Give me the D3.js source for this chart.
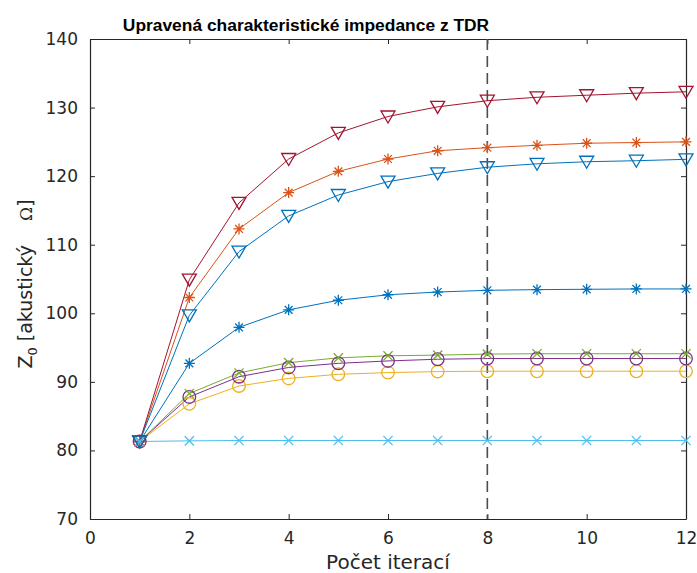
<!DOCTYPE html>
<html>
<head>
<meta charset="utf-8">
<script src="https://cdn.jsdelivr.net/npm/d3@7"></script>
<style>
  html, body { margin: 0; padding: 0; background: #fff; }
  svg { display: block; }
</style>
</head>
<body>
<svg id="chart" width="697" height="573"></svg>
<script>
// Iteration numbers on the x axis
const iterations = [1, 2, 3, 4, 5, 6, 7, 8, 9, 10, 11, 12];

// Corrected characteristic impedance per iteration, one array per line
const zBlueStar   = [81.3, 92.7, 97.95, 100.5, 101.9, 102.7, 103.1, 103.35, 103.45, 103.5, 103.55, 103.55];
const zOrangeStar = [81.3, 102.3, 112.3, 117.6, 120.7, 122.5, 123.7, 124.15, 124.5, 124.8, 124.9, 125.0];
const zYellowCirc = [81.3, 86.8, 89.4, 90.5, 91.1, 91.35, 91.5, 91.55, 91.55, 91.55, 91.55, 91.55];
const zPurpleCirc = [81.3, 87.8, 90.75, 92.1, 92.7, 93.05, 93.3, 93.4, 93.4, 93.4, 93.4, 93.4];
const zGreenX     = [81.3, 88.3, 91.3, 92.8, 93.5, 93.8, 93.9, 94.05, 94.1, 94.1, 94.1, 94.1];
const zCyanX      = [81.3, 81.4, 81.45, 81.45, 81.45, 81.45, 81.45, 81.45, 81.45, 81.45, 81.45, 81.45];
const zRedTri     = [81.3, 104.9, 116.1, 122.5, 126.3, 128.7, 130.1, 131.0, 131.5, 131.8, 132.1, 132.3];
const zBlueTri    = [81.3, 99.7, 109.0, 114.2, 117.25, 119.2, 120.4, 121.3, 121.8, 122.1, 122.25, 122.45];

// Axis ticks and the marked iteration
const xTicks = [0, 2, 4, 6, 8, 10, 12];
const yTicks = [70, 80, 90, 100, 110, 120, 130, 140];
const markedIteration = 8;

const series = [
  { values: zBlueStar,   color: "#0072BD", marker: "star" },
  { values: zOrangeStar, color: "#D95319", marker: "star" },
  { values: zYellowCirc, color: "#EDB120", marker: "circle" },
  { values: zPurpleCirc, color: "#7E2F8E", marker: "circle" },
  { values: zGreenX,     color: "#77AC30", marker: "cross" },
  { values: zCyanX,      color: "#4DBEEE", marker: "cross" },
  { values: zRedTri,     color: "#A2142F", marker: "tri" },
  { values: zBlueTri,    color: "#0072BD", marker: "tri" }
];

const svg = d3.select("#chart");
const plotLeft = 90, plotRight = 686, plotTop = 39, plotBottom = 519;

const x = d3.scaleLinear().domain([0, 12]).range([plotLeft, plotRight]);
const y = d3.scaleLinear().domain([70, 140]).range([plotBottom, plotTop]);

const axisColor = "#262626";
const labelFont = "'DejaVu Sans', sans-serif";
const titleFont = "'Liberation Sans', Arial, Helvetica, sans-serif";

const g = svg.append("g");

// Bottom and left axes carry labels; top and right mirror the ticks
const xAxis = d3.axisBottom(x).tickValues(xTicks).tickSizeInner(-5).tickSizeOuter(0).tickPadding(13);
const yAxis = d3.axisLeft(y).tickValues(yTicks).tickSizeInner(-5).tickSizeOuter(0).tickPadding(12);
const xTop = d3.axisTop(x).tickValues(xTicks).tickSizeInner(-5).tickSizeOuter(0).tickFormat("");
const yRight = d3.axisRight(y).tickValues(yTicks).tickSizeInner(-5).tickSizeOuter(0).tickFormat("");

function styleAxis(sel) {
  sel.selectAll("path").attr("stroke", axisColor).attr("stroke-width", 1.2);
  sel.selectAll("line").attr("stroke", axisColor).attr("stroke-width", 1);
  sel.selectAll("text").attr("fill", axisColor)
    .style("font-family", labelFont).style("font-size", "17px");
}

g.append("g").attr("transform", `translate(0,${plotBottom})`).call(xAxis).call(styleAxis);
g.append("g").attr("transform", `translate(${plotLeft},0)`).call(yAxis).call(styleAxis);
g.append("g").attr("transform", `translate(0,${plotTop})`).call(xTop).call(styleAxis);
g.append("g").attr("transform", `translate(${plotRight},0)`).call(yRight).call(styleAxis);

// Dashed vertical line at the chosen iteration
svg.append("line")
  .attr("x1", x(markedIteration)).attr("x2", x(markedIteration))
  .attr("y1", y(140)).attr("y2", y(70))
  .attr("stroke", "#4d4d4d").attr("stroke-width", 1.6)
  .attr("stroke-dasharray", "11,6");

// Lines
const line = d3.line().x((d, i) => x(iterations[i])).y(d => y(d));
const plot = svg.append("g");

series.forEach(s => {
  plot.append("path")
    .datum(s.values)
    .attr("d", line)
    .attr("fill", "none")
    .attr("stroke", s.color)
    .attr("stroke-width", 1);
});

// Markers
function markerPath(type) {
  switch (type) {
    case "star": {
      const a = 5.5, b = 3.9;
      return `M${-a},0L${a},0M0,${-a}L0,${a}M${-b},${-b}L${b},${b}M${-b},${b}L${b},${-b}`;
    }
    case "cross": {
      const c = 4.6;
      return `M${-c},${-c}L${c},${c}M${-c},${c}L${c},${-c}`;
    }
    case "tri":
      return "M-7,-5.5L7,-5.5L0,6.5Z";
    default:
      return null;
  }
}

series.forEach(s => {
  const mg = plot.append("g");
  const pts = mg.selectAll("g.pt")
    .data(s.values)
    .join("g")
    .attr("class", "pt")
    .attr("transform", (d, i) => `translate(${x(iterations[i])},${y(d)})`);
  if (s.marker === "circle") {
    pts.append("circle").attr("r", 6.3)
      .attr("fill", "none").attr("stroke", s.color).attr("stroke-width", 1.3);
  } else {
    pts.append("path").attr("d", markerPath(s.marker))
      .attr("fill", "none").attr("stroke", s.color).attr("stroke-width", 1.3);
  }
});

// Title
svg.append("text")
  .attr("x", 306).attr("y", 31)
  .attr("text-anchor", "middle")
  .style("font-family", titleFont)
  .style("font-weight", "bold")
  .style("font-size", "17.4px")
  .attr("fill", "#000")
  .text("Upravená charakteristické impedance z TDR");

// X axis label
svg.append("text")
  .attr("x", (plotLeft + plotRight) / 2).attr("y", 569)
  .attr("text-anchor", "middle")
  .style("font-family", labelFont)
  .style("font-size", "20px")
  .attr("fill", axisColor)
  .text("Počet iterací");

// Y axis label
const yl = svg.append("text")
  .attr("transform", `translate(32,${(plotTop + plotBottom) / 2 + 5}) rotate(-90)`)
  .attr("text-anchor", "middle")
  .style("font-family", labelFont)
  .style("font-size", "19px")
  .attr("fill", axisColor);
yl.append("tspan").text("Z");
yl.append("tspan").attr("dy", 5).style("font-size", "13px").text("0");
yl.append("tspan").attr("dy", -5).text(" [akustický\u00a0\u00a0\u00a0 ");
yl.append("tspan").style("font-family", "'DejaVu Serif', serif").style("font-size", "17px").text("Ω");
yl.append("tspan").text("]");
</script>
</body>
</html>
